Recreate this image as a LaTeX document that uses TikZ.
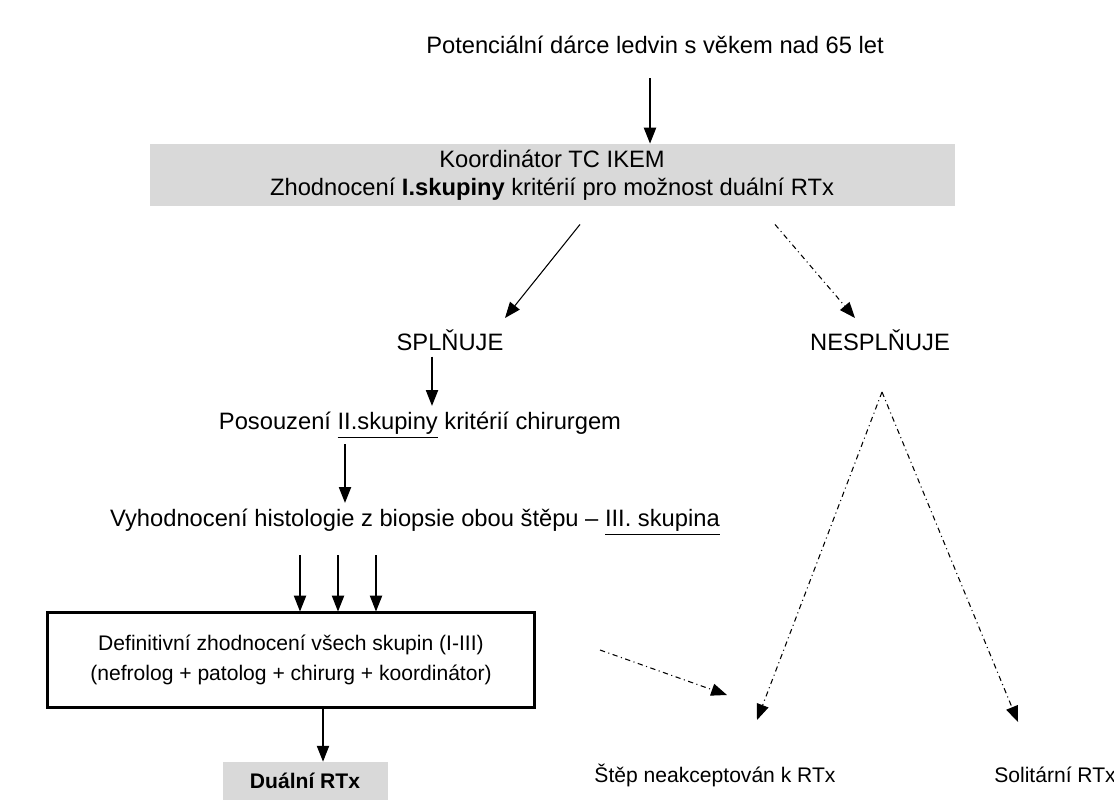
\documentclass[tikz,border=0pt]{standalone}
\usepackage{fontspec}
\setmainfont{Liberation Sans}
\usetikzlibrary{arrows.meta}
\begin{document}
\begin{tikzpicture}[x=0.02cm, y=-0.02cm, font=\fontsize{13.5}{16}\selectfont,
    solid arrow/.style = {-{Triangle[length=9pt,width=7pt]}, semithick},
    dash arrow/.style = {-{Triangle[length=9pt,width=7pt]}, semithick, dash dot}]
    \useasboundingbox (0, 0) rectangle (1114, 800);
    % uzly
    \node (donor) at (655, 45) {Potenciální dárce ledvin s věkem nad 65 let};
    \node [fill=black!15, minimum width=805*0.02cm, minimum height=55*0.02cm, align=center] (coord) at (552, 175)
        {Koordinátor TC IKEM\\Zhodnocení \textbf{I.skupiny} kritérií pro možnost duální RTx};
    \node (yes) at (450, 340) {SPLŇUJE};
    \node (no) at (880, 340) {NESPLŇUJE};
    \node (surg) at (420, 425) {Posouzení \underline{II.skupiny} kritérií chirurgem};
    \node (hist) at (415, 522) {Vyhodnocení histologie z biopsie obou štěpu -- \underline{III. skupina}};
    \node [draw, very thick, minimum width=487*0.02cm, minimum height=95*0.02cm, align=center,
        font=\fontsize{12}{17}\selectfont] (final) at (291, 660)
        {Definitivní zhodnocení všech skupin (I-III)\\(nefrolog + patolog + chirurg + koordinátor)};
    \node [fill=black!15, minimum width=165*0.02cm, minimum height=38*0.02cm, font=\fontsize{12}{15}\selectfont\bfseries] (dual) at (305, 781) {Duální RTx};
    \node [font=\fontsize{12}{15}\selectfont] (reject) at (715, 775) {Štěp neakceptován k RTx};
    \node [font=\fontsize{12}{15}\selectfont] (solo) at (1055, 775) {Solitární RTx};
    \coordinate (apex) at (882, 392);
    \coordinate (fromfinal) at (600, 650);
    \coordinate (toreject) at (727, 695);
    % spojnice
    \draw [solid arrow] (donor.south -| 650, 0) ++(0, 18) -- (coord.north -| 650, 0);
    \draw [solid arrow] (coord.south -| 580, 0) ++(0, 18) -- (505, 318);
    \draw [dash arrow] (coord.south -| 775, 0) ++(0, 18) -- (855, 318);
    \draw [solid arrow] (yes.south -| 432, 0) -- (surg.north -| 432, 0);
    \draw [solid arrow] (surg.south -| 345, 0) -- (hist.north -| 345, 0);
    \foreach \x in {300, 338, 376}
        \draw [solid arrow] (hist.south -| \x, 0) ++(0, 14) -- (final.north -| \x, 0);
    \draw [solid arrow] (final.south -| 323, 0) -- (dual.north -| 323, 0);
    \draw [dash arrow] (fromfinal) -- (toreject);
    \draw [dash arrow] (apex) -- (757, 720);
    \draw [dash arrow] (apex) -- (1018, 722);
\end{tikzpicture}
\end{document}
